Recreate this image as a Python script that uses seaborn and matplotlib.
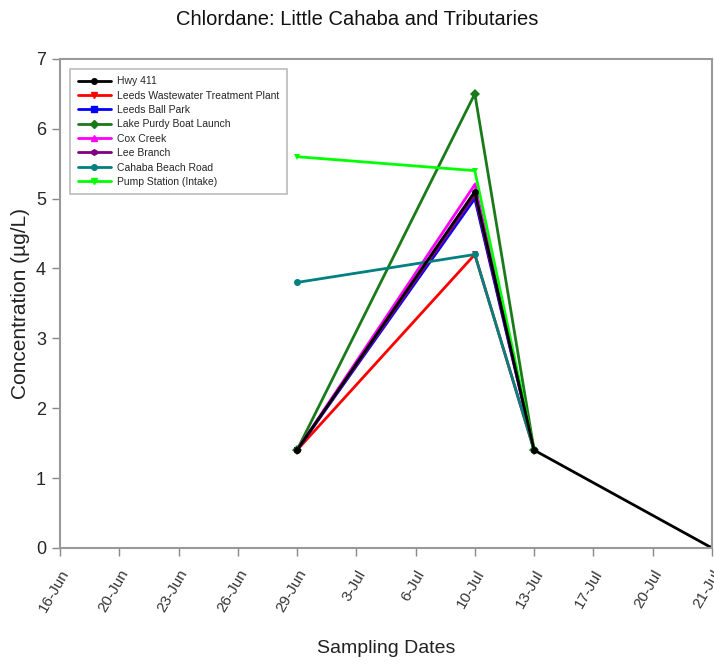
import matplotlib
matplotlib.use("Agg")
import matplotlib.pyplot as plt
import seaborn as sns
import pandas as pd
import numpy as np

sns.set_style("white")
plt.rcParams["font.family"] = ["Liberation Sans", "DejaVu Sans"]

# Axis tick dates (evenly spaced on the category axis)
tick_dates = ["16-Jun", "20-Jun", "23-Jun", "26-Jun", "29-Jun", "3-Jul",
              "6-Jul", "10-Jul", "13-Jul", "17-Jul", "20-Jul", "21-Jul"]

# Sampling dates and concentrations (µg/L) per site
sample_dates = ["29-Jun", "10-Jul", "13-Jul", "21-Jul"]
hwy_411 = [1.4, 5.1, 1.4, 0.0]
leeds_wwtp = [1.4, 4.2, 1.4, None]
leeds_ball_park = [1.4, 5.0, 1.4, None]
lake_purdy = [1.4, 6.5, 1.4, None]
cox_creek = [1.4, 5.2, 1.4, None]
lee_branch = [1.4, 5.05, 1.4, None]
cahaba_beach = [3.8, 4.2, 1.4, None]
pump_station = [5.6, 5.4, 1.4, None]

sites = ["Hwy 411", "Leeds Wastewater Treatment Plant", "Leeds Ball Park",
         "Lake Purdy Boat Launch", "Cox Creek", "Lee Branch",
         "Cahaba Beach Road", "Pump Station (Intake)"]
series = [hwy_411, leeds_wwtp, leeds_ball_park, lake_purdy,
          cox_creek, lee_branch, cahaba_beach, pump_station]
colors = ["#000000", "#ff0000", "#0000ff", "#1a7a1a",
          "#ff00ff", "#800080", "#008080", "#00ff00"]
markers = ["o", "v", "s", "D", "^", "h", "o", "v"]

rows = []
for site, vals in zip(sites, series):
    for d, v in zip(sample_dates, vals):
        if v is not None:
            rows.append({"site": site, "pos": tick_dates.index(d), "conc": v})
df = pd.DataFrame(rows)

fig = plt.figure(figsize=(7.14, 6.69), dpi=100)
ax = fig.add_axes([0.084, 0.181, 0.913, 0.731])

# Draw the Hwy 411 line last so it sits on top of the others
order = sites[1:] + sites[:1]
for site in order:
    i = sites.index(site)
    sub = df[df["site"] == site]
    sns.lineplot(data=sub, x="pos", y="conc", ax=ax, color=colors[i],
                 marker=markers[i], markersize=5, markeredgewidth=0,
                 linewidth=2.0, label=site, legend=False)

ax.set_xlim(0, len(tick_dates) - 1)
ax.set_ylim(0, 7)
ax.set_xticks(range(len(tick_dates)))
ax.set_xticklabels(tick_dates, rotation=60, ha="right", rotation_mode="anchor",
                   fontsize=11, color="#333333")
ax.set_yticks(range(0, 8))
ax.tick_params(axis="y", labelsize=13, length=6, width=1, color="#888888",
               direction="out", left=True, pad=4)
ax.tick_params(axis="x", length=6, width=1, color="#888888",
               direction="out", bottom=True, pad=8)
for s in ax.spines.values():
    s.set_color("#999999")
    s.set_linewidth(1.5)

ax.set_xlabel("Sampling Dates", fontsize=14, color="#222222", labelpad=18)
ax.set_ylabel("Concentration (µg/L)", fontsize=15, color="#222222", labelpad=4)
fig.suptitle("Chlordane: Little Cahaba and Tributaries", fontsize=14.5,
             y=0.985, color="#111111")

handles = [plt.Line2D([], [], color=colors[i], marker=markers[i], markersize=4,
                      linewidth=2) for i in range(len(sites))]
leg = ax.legend(handles, sites, loc="upper left", fontsize=7.5,
                bbox_to_anchor=(0.008, 0.99), frameon=True, fancybox=False,
                edgecolor="#aaaaaa", handlelength=3.2, labelspacing=0.42,
                borderpad=0.7, handletextpad=0.6)
leg.get_frame().set_linewidth(1.2)

fig.savefig("out.png", dpi=100)
